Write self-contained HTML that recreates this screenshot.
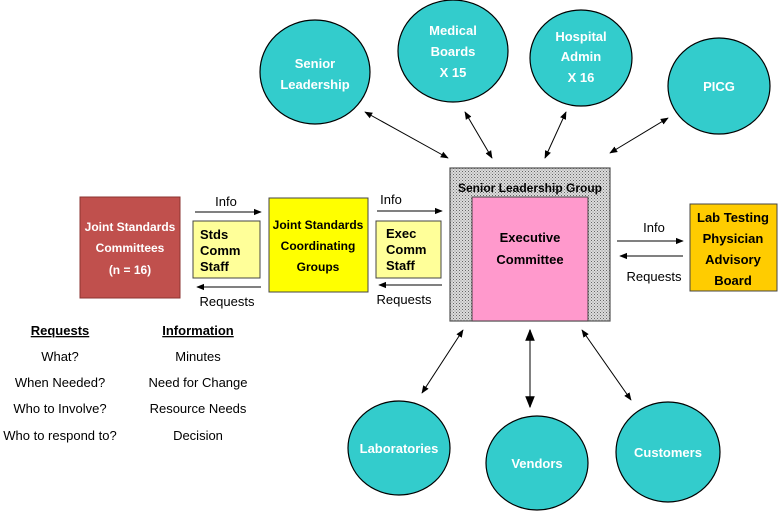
<!DOCTYPE html>
<html><head><meta charset="utf-8"><style>
body{margin:0;background:#fff}
svg text{font-family:"Liberation Sans",sans-serif}
</style></head><body>
<svg width="780" height="512" viewBox="0 0 780 512" xmlns="http://www.w3.org/2000/svg">
<defs>
<marker id="a" viewBox="0 0 10 10" refX="9" refY="5" markerWidth="8" markerHeight="8" orient="auto-start-reverse"><path d="M0,1 L10,5 L0,9 z" fill="#000"/></marker>
<pattern id="dot" width="3" height="3" patternUnits="userSpaceOnUse"><rect width="3" height="3" fill="#dcdcdc"/><rect width="1" height="1" fill="#666"/><rect x="1.5" y="1.5" width="1" height="1" fill="#888"/></pattern>
</defs>
<g stroke="#000" stroke-width="1.2" fill="#33cccc">
<ellipse cx="315" cy="72" rx="55" ry="52"/>
<ellipse cx="453" cy="51" rx="55" ry="51"/>
<ellipse cx="581" cy="58" rx="51" ry="48"/>
<ellipse cx="719" cy="86" rx="51" ry="48"/>
<ellipse cx="399" cy="448" rx="51" ry="47"/>
<ellipse cx="537" cy="463" rx="51" ry="47"/>
<ellipse cx="668" cy="452" rx="52" ry="50"/>
</g>
<g fill="#fff" font-weight="bold" font-size="13" text-anchor="middle">
<text x="315" y="68">Senior</text><text x="315" y="89">Leadership</text>
<text x="453" y="35">Medical</text><text x="453" y="56">Boards</text><text x="453" y="77">X 15</text>
<text x="581" y="41">Hospital</text><text x="581" y="61">Admin</text><text x="581" y="82">X 16</text>
<text x="719" y="91">PICG</text>
<text x="399" y="453">Laboratories</text>
<text x="537" y="468">Vendors</text>
<text x="668" y="457">Customers</text>
</g>
<g stroke="#000" stroke-width="1" marker-start="url(#a)" marker-end="url(#a)">
<line x1="365" y1="112" x2="448" y2="158"/>
<line x1="465" y1="112" x2="492" y2="158"/>
<line x1="566" y1="112" x2="545" y2="158"/>
<line x1="668" y1="118" x2="610" y2="153"/>
<line x1="463" y1="330" x2="422" y2="393"/>
<line x1="530" y1="330" x2="530" y2="407" stroke="#555" stroke-width="1.5"/>
<line x1="582" y1="330" x2="631" y2="400"/>
</g>
<rect x="450" y="168" width="160" height="153" fill="url(#dot)" stroke="#555" stroke-width="1.2"/>
<text x="530" y="192" font-size="12" font-weight="bold" text-anchor="middle">Senior Leadership Group</text>
<rect x="472" y="197" width="116" height="124" fill="#ff99cc" stroke="#444" stroke-width="1"/>
<text x="530" y="242" font-size="13" font-weight="bold" text-anchor="middle">Executive</text>
<text x="530" y="264" font-size="13" font-weight="bold" text-anchor="middle">Committee</text>
<rect x="690" y="204" width="87" height="87" fill="#ffcc00" stroke="#444"/>
<g font-size="13" font-weight="bold" text-anchor="middle"><text x="733" y="222">Lab Testing</text><text x="733" y="243">Physician</text><text x="733" y="264">Advisory</text><text x="733" y="285">Board</text></g>
<rect x="80" y="197" width="100" height="101" fill="#c0504d" stroke="#8b3330"/>
<g fill="#fff" font-size="12" font-weight="bold" text-anchor="middle"><text x="130" y="231">Joint Standards</text><text x="130" y="252">Committees</text><text x="130" y="274">(n = 16)</text></g>
<rect x="193" y="221" width="67" height="57" fill="#ffff99" stroke="#444"/>
<g font-size="13" font-weight="bold"><text x="200" y="239">Stds</text><text x="200" y="255">Comm</text><text x="200" y="271">Staff</text></g>
<rect x="269" y="198" width="99" height="94" fill="#ffff00" stroke="#444"/>
<g font-size="12" font-weight="bold" text-anchor="middle"><text x="318" y="229">Joint Standards</text><text x="318" y="250">Coordinating</text><text x="318" y="271">Groups</text></g>
<rect x="376" y="221" width="65" height="57" fill="#ffff99" stroke="#444"/>
<g font-size="13" font-weight="bold"><text x="386" y="238">Exec</text><text x="386" y="254">Comm</text><text x="386" y="270">Staff</text></g>
<g stroke="#000" stroke-width="1" marker-end="url(#a)">
<line x1="195" y1="212" x2="261" y2="212"/>
<line x1="261" y1="287" x2="197" y2="287"/>
<line x1="377" y1="211" x2="442" y2="211"/>
<line x1="442" y1="285" x2="379" y2="285"/>
<line x1="617" y1="241" x2="683" y2="241"/>
<line x1="683" y1="256" x2="620" y2="256"/>
</g>
<g font-size="13" text-anchor="middle">
<text x="226" y="206">Info</text><text x="227" y="306">Requests</text>
<text x="391" y="204">Info</text><text x="404" y="304">Requests</text>
<text x="654" y="232">Info</text><text x="654" y="281">Requests</text>
</g>
<g font-size="13" text-anchor="middle">
<text x="60" y="335" font-weight="bold" text-decoration="underline">Requests</text>
<text x="60" y="361">What?</text><text x="60" y="387">When Needed?</text><text x="60" y="413">Who to Involve?</text><text x="60" y="440">Who to respond to?</text>
<text x="198" y="335" font-weight="bold" text-decoration="underline">Information</text>
<text x="198" y="361">Minutes</text><text x="198" y="387">Need for Change</text><text x="198" y="413">Resource Needs</text><text x="198" y="440">Decision</text>
</g>
</svg>
</body></html>
